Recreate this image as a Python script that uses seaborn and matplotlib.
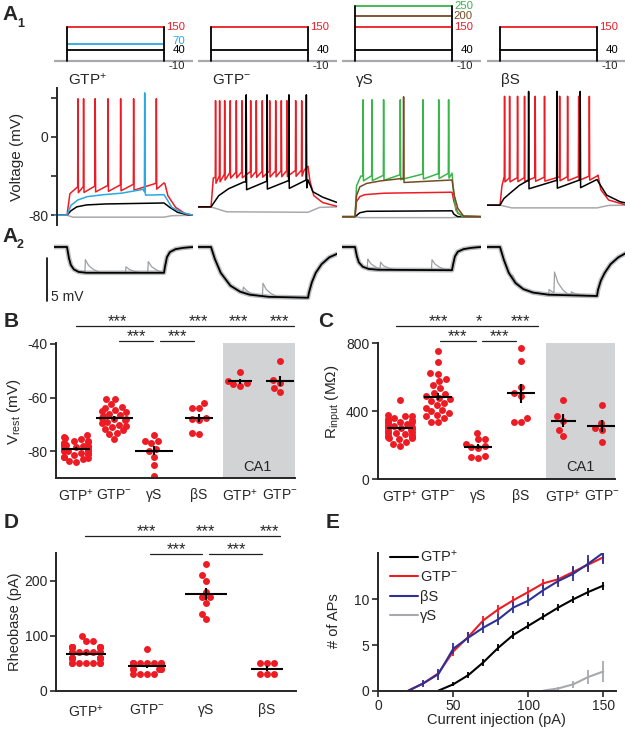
import numpy as np
import pandas as pd
import matplotlib
matplotlib.use("Agg")
import matplotlib.pyplot as plt
from matplotlib.lines import Line2D
import seaborn as sns

# --------------------------
# STYLE
# --------------------------
sns.set_style("ticks")
plt.rcParams['font.family'] = ['Liberation Sans', 'DejaVu Sans']
plt.rcParams['mathtext.fontset'] = 'custom'
plt.rcParams['mathtext.rm'] = 'Liberation Sans'
plt.rcParams['mathtext.default'] = 'regular'
plt.rcParams['axes.linewidth'] = 1.4

RED = '#ed1c24'
BLUE = '#27aae1'
GREEN = '#39b54a'
BROWN = '#754c24'
GRAY = '#a7a9ac'
NAVY = '#2e3192'
SHADE = '#d1d3d4'

# --------------------------
# DATA
# --------------------------
group_names = ['GTP$^{+}$', 'GTP$^{-}$', 'γS', 'βS']
cat_names = ['GTP$^{+}$', 'GTP$^{-}$', 'γS', 'βS', 'GTP$^{+}$', 'GTP$^{-}$']

# step protocol (pA), step lasts 500 ms
step_ms = 500
prot_levels = [[150, 70, 40], [150, 40], [250, 200, 150, 40], [150, 40]]
prot_base = -10

# A1 traces: time knots (ms) / voltage knots (mV), spike times
# GTP+
gp_m10_t = [-67, 0, 30, 500, 540, 650]
gp_m10_v = [-80, -80, -82, -82, -80.5, -80]
gp_40_t = [-67, 0, 20, 50, 100, 200, 350, 500, 530, 570, 620, 650]
gp_40_v = [-80, -80, -75.5, -71.5, -69.5, -68.5, -68, -67.5, -72, -77, -79.5, -80]
gp_70_t = [-67, 0, 20, 55, 105, 190, 280, 395, 405, 500, 510, 540, 590, 640, 650]
gp_70_v = [-80, -80, -70, -64.5, -61, -59, -57.5, -53.5, -59.5, -59, -62, -72, -77, -79.5, -80]
gp_70_spk = [399]
gp_150_t = [-67, 0, 15, 55, 500, 505, 520, 560, 610, 650]
gp_150_v = [-80, -80, -58, -51, -47, -48, -60, -72, -78.5, -80]
gp_150_spk = [55, 84, 144, 210, 275, 342, 459]
# GTP-
gm_m10_t = [-67, 0, 80, 500, 560, 650]
gm_m10_v = [-71.5, -71.5, -76.5, -77, -72, -71.5]
gm_40_t = [-67, 0, 40, 90, 170, 500, 525, 575, 650]
gm_40_v = [-71.5, -71.5, -60, -53, -46, -44, -56, -61.5, -67]
gm_40_spk = [180, 287, 400, 490]
gm_150_t = [-67, 0, 12, 100, 480, 500, 510, 530, 575, 650]
gm_150_v = [-71.5, -71.5, -42, -36, -34, -30, -45, -60, -67, -71]
gm_150_spk = [22, 43, 69, 98, 129, 158, 203, 232, 263, 301, 332, 361, 390, 435, 466]
# gammaS
gs_m10_t = [-67, 0, 30, 500, 540, 650]
gs_m10_v = [-81.5, -81.5, -82.5, -82.5, -81.5, -81.5]
gs_40_t = [-67, 0, 25, 60, 500, 510, 530, 650]
gs_40_v = [-81.5, -81.5, -77.5, -76, -75.5, -79, -81.5, -81.5]
gs_150_t = [-67, 0, 8, 25, 50, 150, 500, 510, 530, 560, 650]
gs_150_v = [-81.5, -81.5, -66, -61, -59, -57.5, -56.5, -66, -78, -81, -81.5]
gs_200_t = [-67, 0, 8, 25, 60, 130, 240, 500, 512, 530, 560, 650]
gs_200_v = [-81.5, -81.5, -60, -51, -47.5, -45, -42.5, -44, -60, -73, -81, -81.5]
gs_200_spk = [249]
gs_250_t = [-67, 0, 8, 30, 500, 508, 520, 550, 650]
gs_250_v = [-81.5, -81.5, -50, -40, -37, -55, -75, -81, -81.5]
gs_250_spk = [40, 86, 146, 232, 349, 430, 481]
# betaS
bs_m10_t = [-67, 0, 60, 500, 560, 650]
bs_m10_v = [-69.7, -69.7, -72.5, -72.5, -70, -69.7]
bs_40_t = [-67, 0, 20, 50, 100, 140, 500, 510, 550, 620, 650]
bs_40_v = [-69.7, -69.7, -63, -57.8, -49.5, -45, -43.5, -47, -59.5, -66.3, -67.5]
bs_40_spk = [146, 292, 412]
bs_150_t = [-67, 0, 10, 20, 500, 505, 520, 560, 640, 650]
bs_150_v = [-69.7, -69.7, -50, -42, -40, -39, -54, -64.5, -69, -69.3]
bs_150_spk = [22, 48, 89, 125, 180, 228, 306, 347, 404, 459]

# A2: -10 pA responses (mV from rest), with spontaneous events in one trial
a2_t = [[-67, 0, 10, 20, 35, 60, 100, 500, 505, 515, 530, 560, 600, 650],
        [-67, 0, 20, 50, 100, 150, 200, 300, 500, 505, 520, 540, 570, 610, 650],
        [-67, 0, 10, 20, 40, 70, 120, 500, 505, 515, 530, 560, 600, 650],
        [-67, 0, 20, 45, 80, 120, 170, 250, 500, 505, 520, 540, 570, 610, 650]]
a2_v = [[0, 0, -1.3, -2.1, -2.6, -2.9, -3.0, -3.0, -2.3, -1.2, -0.6, -0.25, -0.1, 0],
        [0, 0, -1.4, -3.0, -4.5, -5.2, -5.55, -5.8, -5.9, -5.3, -4.1, -3.0, -2.0, -1.2, -0.8],
        [0, 0, -1.1, -1.8, -2.3, -2.55, -2.65, -2.7, -2.1, -1.1, -0.55, -0.25, -0.1, 0],
        [0, 0, -1.5, -3.0, -4.2, -4.9, -5.3, -5.55, -5.7, -5.0, -3.9, -3.0, -2.0, -1.2, -0.7]]
a2_evt_t = [[92, 301, 416], [164, 265], [63, 129, 394], [62, 250, 278, 365]]
a2_evt_amp = [[1.5, 0.7, 1.3], [0.65, 1.5], [1.1, 0.8, 1.2], [0.4, 0.6, 2.4, 0.4]]

# B: resting potential (mV)
vrest_gtpp = [-74, -74.5, -75, -75.5, -76, -76, -76.5, -77, -77, -77.5, -78, -78, -78,
              -78.5, -78.5, -79, -79, -79, -79.5, -79.5, -80, -80, -80, -80.5, -81,
              -81, -81.5, -82, -82, -82.5, -83, -83.5, -84, -77.5, -78.5]
vrest_gtpm = [-60.5, -60.5, -62.5, -63.5, -64, -64.5, -65, -65.5, -66, -66.5, -67,
              -67.5, -68, -68, -68.5, -69, -69.5, -70, -70.5, -71, -71.5, -72, -73,
              -73.5, -75.5]
vrest_gs = [-74, -76, -76, -77, -79, -80, -82, -85, -89]
vrest_bs = [-62, -64, -64, -67.5, -68, -68.5, -73, -73.5]
vrest_ca1_gtpp = [-50.5, -54, -54.5, -55, -55.5]
vrest_ca1_gtpm = [-46.5, -53.5, -54.5, -56.5, -58]

# C: input resistance (MOhm)
rin_gtpp = [465, 380, 375, 370, 360, 355, 350, 345, 340, 335, 330, 325, 320, 315,
            310, 305, 300, 300, 295, 290, 285, 280, 275, 270, 265, 260, 255, 250,
            245, 240, 250, 245, 220, 210, 195]
rin_gtpm = [755, 690, 625, 620, 590, 580, 555, 535, 510, 500, 490, 480, 470, 460,
            450, 440, 420, 410, 400, 390, 380, 370, 360, 340, 335]
rin_gs = [275, 240, 235, 210, 195, 190, 185, 135, 130, 125]
rin_bs = [770, 695, 545, 505, 490, 360, 340, 335]
rin_ca1_gtpp = [466, 370, 345, 290, 255]
rin_ca1_gtpm = [437, 330, 300, 290, 222]

# D: rheobase (pA)
rheo_gtpp = [50] * 7 + [60] * 8 + [70] * 7 + [80] * 7 + [90] * 2 + [100]
rheo_gtpm = [30] * 4 + [40] * 5 + [50] * 8 + [75]
rheo_gs = [230, 210, 200, 180, 170, 170, 160, 140, 130]
rheo_bs = [50, 50, 50, 30, 30, 30]

# E: number of APs vs injected current
cur_gtpp = [40, 50, 60, 70, 80, 90, 100, 110, 120, 130, 140, 150]
aps_gtpp = [0, 0.7, 1.7, 3.1, 4.7, 6.1, 7.1, 8.1, 9.1, 10.0, 10.8, 11.5]
sem_gtpp = [0, 0.2, 0.3, 0.4, 0.4, 0.4, 0.4, 0.4, 0.4, 0.4, 0.4, 0.45]
cur_gtpm = [20, 30, 40, 50, 60, 70, 80, 90, 100, 110, 120, 130, 140, 150]
aps_gtpm = [0, 0.8, 1.9, 4.3, 5.9, 7.7, 8.9, 9.9, 10.8, 11.75, 12.2, 13.0, 13.8, 14.6]
sem_gtpm = [0, 0.2, 0.3, 0.5, 0.5, 0.5, 0.5, 0.5, 0.5, 0.5, 0.5, 0.5, 0.6, 0.6]
cur_bs = [20, 30, 40, 50, 60, 70, 80, 90, 100, 110, 120, 130, 140, 150]
aps_bs = [0, 0.8, 1.8, 4.6, 5.8, 6.9, 7.8, 9.1, 9.85, 11.0, 12.0, 12.8, 13.9, 15.1]
sem_bs = [0, 0.4, 0.6, 0.6, 0.6, 0.6, 0.6, 0.6, 0.6, 0.6, 0.7, 0.8, 0.9, 1.2]
cur_gs = [110, 120, 130, 140, 150]
aps_gs = [0, 0.25, 0.7, 1.5, 2.1]
sem_gs = [0, 0.15, 0.35, 0.8, 1.2]

# --------------------------
# LAYOUT HELPERS
# --------------------------
W, H = 625, 732
fig = plt.figure(figsize=(6.25, 7.32), dpi=100)


def px_axes(left, top, right, bottom):
    return fig.add_axes([left / W, 1 - bottom / H, (right - left) / W, (bottom - top) / H])


def fig_text(x, y, s, **kw):
    fig.text(x / W, 1 - y / H, s, **kw)


def with_spikes(t, v, spikes=(), peak=0.0, ahp=0.0):
    tt, vv = list(t), list(v)
    for s in spikes:
        base = float(np.interp(s, t, v))
        tt += [s, s + 1.5, s + 3.5]
        vv += [base, peak, base - ahp]
    order = np.argsort(tt, kind='stable')
    return np.array(tt)[order], np.array(vv)[order]


def with_events(t, v, evt, amp):
    shape_t = [0, 3, 20, 45, 80]
    shape_f = [0, 1, 0.55, 0.25, 0]
    grid = np.array(sorted(set(t) | {s + d for s in evt for d in shape_t}))
    out = np.interp(grid, t, v)
    for s, a in zip(evt, amp):
        out = out + a * np.interp(grid - s, shape_t, shape_f, left=0, right=0)
    return grid, out


T0, T1 = -67, 650
PX_MS = 97 / 500
ONSET_PX = [67, 211, 355, 500]
prot_colors = [[RED, BLUE, 'k'], [RED, 'k'], [GREEN, BROWN, RED, 'k'], [RED, 'k']]
label_lift = {70: 13}

a1_traces = [
    [(gp_m10_t, gp_m10_v, [], 0, 0, GRAY), (gp_40_t, gp_40_v, [], 0, 0, 'k'),
     (gp_150_t, gp_150_v, gp_150_spk, 39, 6, RED), (gp_70_t, gp_70_v, gp_70_spk, 45, 0, BLUE)],
    [(gm_m10_t, gm_m10_v, [], 0, 0, GRAY), (gm_150_t, gm_150_v, gm_150_spk, 37, 6, RED),
     (gm_40_t, gm_40_v, gm_40_spk, 43, 8, 'k')],
    [(gs_m10_t, gs_m10_v, [], 0, 0, GRAY), (gs_40_t, gs_40_v, [], 0, 0, 'k'),
     (gs_150_t, gs_150_v, [], 0, 0, RED), (gs_250_t, gs_250_v, gs_250_spk, 38, 5, GREEN),
     (gs_200_t, gs_200_v, gs_200_spk, 41, 4, BROWN)],
    [(bs_m10_t, bs_m10_v, [], 0, 0, GRAY), (bs_150_t, bs_150_v, bs_150_spk, 41.5, 4, RED),
     (bs_40_t, bs_40_v, bs_40_spk, 46.5, 8, 'k')],
]

# --------------------------
# PANEL A
# --------------------------
for g in range(4):
    left = ONSET_PX[g] + T0 * PX_MS
    right = ONSET_PX[g] + T1 * PX_MS

    # protocol
    axp = px_axes(left, 0, right, 66)
    axp.set_xlim(T0, T1)
    axp.set_ylim(-36, 278)
    axp.axis('off')
    axp.plot([T0, T1], [prot_base, prot_base], color=GRAY, lw=1.6, solid_capstyle='butt')
    for lvl, col in zip(prot_levels[g], prot_colors[g]):
        axp.plot([0, step_ms], [lvl, lvl], color=col, lw=1.3)
        axp.text(608, lvl + label_lift.get(lvl, 0), str(lvl), color=col,
                 ha='right', va='center', fontsize=8.2)
    top = max(prot_levels[g])
    axp.plot([0, 0], [prot_base, top], color='k', lw=1.3)
    axp.plot([step_ms, step_ms], [prot_base, top], color='k', lw=1.3)
    axp.text(608, prot_base - 2, str(prot_base), ha='right', va='top', fontsize=8.2)

    fig_text(ONSET_PX[g] + 1, 80, group_names[g], va='center', fontsize=11)

    # voltage traces
    axv = px_axes(left, 88, right, 225)
    axv.set_xlim(T0, T1)
    axv.set_ylim(-90, 50)
    for t, v, spk, peak, ahp, col in a1_traces[g]:
        tt, vv = with_spikes(t, v, spk, peak, ahp)
        axv.plot(tt, vv, color=col, lw=1.1)
    if g == 0:
        for side in ['top', 'right', 'bottom']:
            axv.spines[side].set_visible(False)
        axv.spines['left'].set_position(('data', -54))
        axv.spines['left'].set_linewidth(1.4)
        axv.set_xticks([])
        axv.set_yticks([40, 0, -40, -80])
        axv.set_yticklabels(['', '0', '', '-80'])
        axv.tick_params(axis='y', labelsize=10, length=4, width=1.2, pad=2)
        axv.patch.set_visible(False)
    else:
        axv.axis('off')

    # A2 hyperpolarizing responses
    axh = px_axes(left, 240, right, 320)
    axh.set_xlim(T0, T1)
    axh.set_ylim(-8.49, 0.81)
    axh.axis('off')
    axh.plot(a2_t[g], a2_v[g], color='#bcbec0', lw=3.4)
    et, ev = with_events(a2_t[g], a2_v[g], a2_evt_t[g], a2_evt_amp[g])
    axh.plot(et, ev, color='#9d9fa2', lw=0.9)
    axh.plot(a2_t[g], a2_v[g], color='k', lw=1.3)
    if g == 0:
        axh.plot([-103, -103], [-1.28, -6.28], color='k', lw=1.2, clip_on=False)
        axh.text(-80, -5.8, '5 mV', fontsize=10, va='center', ha='left')

fig_text(17, 157, 'Voltage (mV)', rotation=90, ha='center', va='center', fontsize=11)
fig_text(2, 15, 'A', fontsize=15, fontweight='bold', va='center')
fig_text(17, 24, '1', fontsize=9, fontweight='bold', va='center')
fig_text(2, 237, 'A', fontsize=15, fontweight='bold', va='center')
fig_text(17, 245, '2', fontsize=9, fontweight='bold', va='center')


# --------------------------
# SCATTER PANELS (B, C, D)
# x data unit = U pixels, so a single-group swarm (0.8 unit wide) is 0.8*U px
# --------------------------
def dot_panel(ax, groups, pos_px, half_px, U):
    for p, a, hw in zip(pos_px, groups, half_px):
        a = np.asarray(a, float)
        sns.swarmplot(x=[p / U] * len(a), y=a, native_scale=True, orient='v', color=RED,
                      size=5, linewidth=0, warn_thresh=1, ax=ax, zorder=2)
        m = a.mean()
        se = a.std(ddof=1) / np.sqrt(len(a))
        ax.hlines(m, (p - hw) / U, (p + hw) / U, color='k', lw=1.5, zorder=4)
        ax.vlines(p / U, m - se, m + se, color='k', lw=1.5, zorder=4)
    ax.set_xlabel('')
    ax.set_ylabel('')
    sns.despine(ax=ax)
    ax.tick_params(axis='y', labelsize=10, length=4, width=1.2, pad=2)
    ax.tick_params(axis='x', labelsize=10, length=0, pad=7)


def sig(ax, U, x0, x1, y, stars_x, stars, fs=12):
    ax.plot([x0 / U, x1 / U], [y, y], color='#231f20', lw=0.9, clip_on=False)
    for sx, st in zip(stars_x, stars):
        ax.text(sx / U, y, st, ha='center', va='baseline', fontsize=fs, clip_on=False)


# B
UB = 29
pos_b = [76, 114, 154, 199, 240, 280]
axB = px_axes(56, 342.5, 295, 478.3)
axB.axvspan(223 / UB, 300 / UB, color=SHADE, zorder=0, lw=0)
dot_panel(axB, [vrest_gtpp, vrest_gtpm, vrest_gs, vrest_bs, vrest_ca1_gtpp, vrest_ca1_gtpm],
          pos_b, [14, 18.5, 19, 14, 12, 14], UB)
axB.set_xlim(56 / UB, 295 / UB)
axB.set_ylim(-90, -39.5)
axB.set_yticks([-40, -60, -80])
axB.set_yticklabels(['-40', '-60', '-80'])
axB.set_xticks([p / UB for p in pos_b])
axB.set_xticklabels(cat_names)
axB.text(257 / UB, -85.7, 'CA1', ha='center', va='center', fontsize=10.5)
sig(axB, UB, 75.7, 293.6, -33.36, [117.5, 198, 238, 279], ['***'] * 4)
sig(axB, UB, 119, 153, -38.94, [136], ['***'])
sig(axB, UB, 160, 194, -38.94, [177], ['***'])
fig_text(14, 412, 'V$_{\\rm rest}$ (mV)', rotation=90, ha='center', va='center', fontsize=11)
fig_text(4, 322, 'B', fontsize=15, fontweight='bold', va='center')

# C
UC = 29
pos_c = [400, 438, 478, 521, 563, 602]
axC = px_axes(377.7, 343.3, 615, 479.3)
axC.axvspan(546 / UC, 620 / UC, color=SHADE, zorder=0, lw=0)
dot_panel(axC, [rin_gtpp, rin_gtpm, rin_gs, rin_bs, rin_ca1_gtpp, rin_ca1_gtpm],
          pos_c, [13, 14, 14, 14, 12.5, 15], UC)
axC.set_xlim(377.7 / UC, 615 / UC)
axC.set_ylim(0, 800)
axC.set_yticks([0, 400, 800])
axC.set_xticks([p / UC for p in pos_c])
axC.set_xticklabels(cat_names)
axC.text(580 / UC, 72, 'CA1', ha='center', va='center', fontsize=10.5)
sig(axC, UC, 396, 538, 901.8, [438, 479, 520], ['***', '*', '***'])
sig(axC, UC, 440, 475.7, 813.5, [457], ['***'])
sig(axC, UC, 481.7, 515.7, 813.5, [499], ['***'])
fig_text(333, 402, 'R$_{\\rm input}$ (MΩ)', rotation=90, ha='center', va='center', fontsize=11)
fig_text(318, 322, 'C', fontsize=15, fontweight='bold', va='center')

# D
UD = 35
pos_d = [86, 147, 206, 267]
axD = px_axes(56, 553, 296, 690.7)
dot_panel(axD, [rheo_gtpp, rheo_gtpm, rheo_gs, rheo_bs], pos_d, [20, 19, 21, 16], UD)
axD.set_xlim(56 / UD, 296 / UD)
axD.set_ylim(0, 250.5)
axD.set_yticks([0, 100, 200])
axD.set_xticks([p / UD for p in pos_d])
axD.set_xticklabels(cat_names[:4])
axD.tick_params(axis='x', pad=9)
sig(axD, UD, 85, 280, 282, [146, 205, 269], ['***'] * 3)
sig(axD, UD, 150, 202, 248.7, [176], ['***'])
sig(axD, UD, 209, 262, 248.7, [236], ['***'])
fig_text(15, 622, 'Rheobase (pA)', rotation=90, ha='center', va='center', fontsize=10.5)
fig_text(4, 523, 'D', fontsize=15, fontweight='bold', va='center')

# --------------------------
# PANEL E
# --------------------------
axE = px_axes(377.7, 553, 616, 690.7)
e_series = [(cur_gs, aps_gs, sem_gs, GRAY), (cur_gtpp, aps_gtpp, sem_gtpp, 'k'),
            (cur_gtpm, aps_gtpm, sem_gtpm, RED), (cur_bs, aps_bs, sem_bs, NAVY)]
for xs, ys, es, col in e_series:
    sns.lineplot(x=xs, y=ys, color=col, lw=1.5, ax=axE, estimator=None)
    axE.errorbar(xs, ys, yerr=es, fmt='none', ecolor=col, elinewidth=1.3, capsize=0)
axE.set_xlim(-0.4, 158.5)
axE.set_ylim(0, 15.07)
axE.set_xticks([0, 50, 100, 150])
axE.set_yticks([0, 5, 10])
sns.despine(ax=axE)
axE.tick_params(labelsize=10, length=4, width=1.2, pad=2)
axE.set_xlabel('Current injection (pA)', fontsize=10.5, labelpad=0)
axE.set_ylabel('')
handles = [Line2D([], [], color=c, lw=1.5) for c in ['k', RED, NAVY, GRAY]]
axE.legend(handles, ['GTP$^{+}$', 'GTP$^{-}$', 'βS', 'γS'], loc='upper left',
           bbox_to_anchor=(0.052, 1.03), frameon=False, fontsize=10.5, handlelength=1.9,
           handletextpad=0.15, labelspacing=0.38, borderpad=0, borderaxespad=0)
fig_text(334, 621, '# of APs', rotation=90, ha='center', va='center', fontsize=10.5)
fig_text(326, 523, 'E', fontsize=15, fontweight='bold', va='center')

fig.savefig('out.png', dpi=100)
